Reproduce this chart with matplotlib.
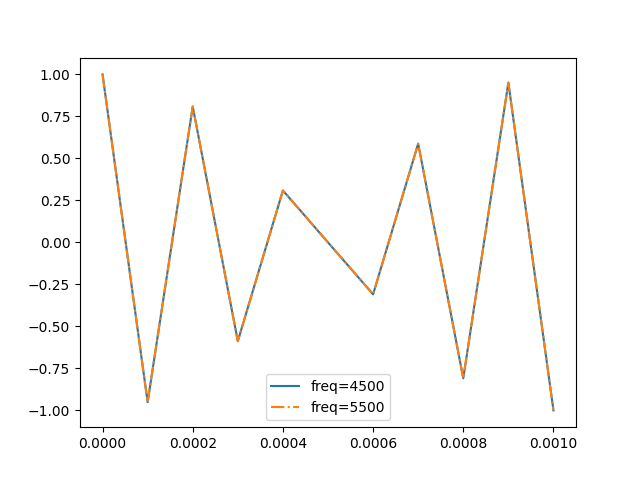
import matplotlib
matplotlib.use("Agg")
import matplotlib.pyplot as plt

t = [0.0, 0.0001, 0.0002, 0.0003, 0.0004, 0.0005, 0.0006, 0.0007, 0.0008, 0.0009, 0.001]
y_4500 = [1.0, -0.951, 0.809, -0.588, 0.309, 0.0, -0.309, 0.588, -0.809, 0.951, -1.0]
y_5500 = [1.0, -0.951, 0.809, -0.588, 0.309, 0.0, -0.309, 0.588, -0.809, 0.951, -1.0]

fig, ax = plt.subplots(figsize=(6.4, 4.8), dpi=100)
ax.plot(t, y_4500, label="freq=4500")
ax.plot(t, y_5500, "-.", label="freq=5500")
ax.legend(loc="lower center")

fig.savefig("out.png")
